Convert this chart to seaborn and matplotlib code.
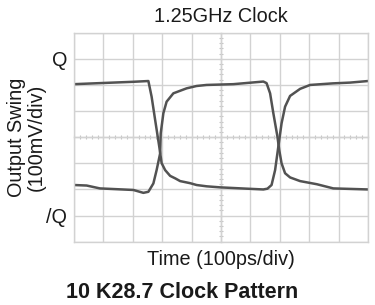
import matplotlib
matplotlib.use("Agg")
import matplotlib.pyplot as plt
import seaborn as sns
import numpy as np
import pandas as pd

# Data (time in divisions of 100 ps, amplitude in divisions of 100 mV)
q_time = [0.0, 0.88, 2.0, 2.53, 2.64, 2.76, 2.90, 2.98, 3.10, 3.27, 3.45, 3.61,
          3.95, 4.17, 4.51, 4.97, 5.87, 6.44, 6.58, 6.72, 6.84, 6.95, 7.06,
          7.18, 7.35, 7.69, 8.03, 8.8, 9.39, 10.0]
q_vals = [2.03, 2.07, 2.12, 2.15, 1.55, 0.66, -0.36, -0.99, -1.26, -1.48, -1.58, -1.68,
          -1.76, -1.83, -1.88, -1.92, -1.97, -2.0, -1.97, -1.83, -1.26, -0.36, 0.53,
          1.17, 1.58, 1.85, 2.0, 2.06, 2.09, 2.15]
qb_time = [0.0, 0.43, 0.88, 2.02, 2.36, 2.53, 2.70, 2.81, 2.93, 2.95, 3.04, 3.15,
           3.38, 3.83, 4.17, 4.51, 5.42, 6.44, 6.55, 6.67, 6.78, 6.92, 6.98, 7.06,
           7.18, 7.35, 7.69, 8.26, 8.82, 10.0]
qb_vals = [-1.83, -1.85, -1.96, -2.02, -2.13, -2.09, -1.77, -1.26, -0.62, 0.15, 0.92, 1.36,
           1.68, 1.87, 1.96, 2.0, 2.03, 2.13, 2.07, 1.68, 0.92, 0.02, -0.49, -1.0,
           -1.38, -1.54, -1.68, -1.80, -1.96, -2.0]
ytick_pos = [3, -3]
ytick_labels = ["Q", "/Q"]

df = pd.concat([
    pd.DataFrame({"t": q_time, "v": q_vals, "s": "Q"}),
    pd.DataFrame({"t": qb_time, "v": qb_vals, "s": "/Q"}),
])

sns.set_theme(style="white")
plt.rcParams["font.family"] = ["Liberation Sans", "DejaVu Sans"]

fig = plt.figure(figsize=(3.75, 3.05), dpi=100)
ax = fig.add_axes([74/375, 1 - 241.7/305, 294/375, 209/305])

grid_c = "#d2d2d2"
sns.lineplot(data=df, x="t", y="v", units="s", estimator=None, sort=False,
             color="#525252", lw=1.8, ax=ax, legend=False)

ax.set_xlim(0, 10)
ax.set_ylim(-4, 4)
ax.set_xticks(np.arange(0, 11, 1))
ax.set_yticks(np.arange(-4, 5, 1), minor=True)
ax.set_yticks(ytick_pos)
ax.set_yticklabels(ytick_labels, fontsize=14.3, color="#1a1a1a")
ax.set_xticklabels([])
ax.tick_params(axis="both", which="both", length=0, pad=5)
ax.grid(True, which="both", color=grid_c, lw=1.0)
ax.set_axisbelow(True)
for sp in ax.spines.values():
    sp.set_color(grid_c)
    sp.set_linewidth(1.0)

# centre graticule lines with small tick marks
sx = ax.secondary_xaxis(0.5)
sx.set_xticks(np.arange(0, 10.01, 0.2))
sx.set_xticklabels([])
sx.tick_params(direction="inout", length=3.5, width=0.8, color="#c4c4c4")
for sp in sx.spines.values():
    sp.set_color(grid_c)
    sp.set_linewidth(1.0)
sy = ax.secondary_yaxis(0.5)
sy.set_yticks(np.arange(-4, 4.01, 0.2))
sy.set_yticklabels([])
sy.tick_params(direction="inout", length=3.5, width=0.8, color="#c4c4c4")
for sp in sy.spines.values():
    sp.set_color(grid_c)
    sp.set_linewidth(1.0)

ax.set_title("1.25GHz Clock", fontsize=14.3, pad=8, color="#1a1a1a")
ax.set_xlabel("Time (100ps/div)", fontsize=14.3, labelpad=1, color="#1a1a1a")
ax.set_ylabel("Output Swing\n(100mV/div)", fontsize=14.3, labelpad=0, color="#1a1a1a",
              linespacing=1.1)

fig.text(182/375, 1 - 293/305, "10 K28.7 Clock Pattern", fontsize=15.5,
         fontweight="bold", ha="center", va="center", color="#1a1a1a")

fig.savefig("out.png", dpi=100, facecolor="white")
